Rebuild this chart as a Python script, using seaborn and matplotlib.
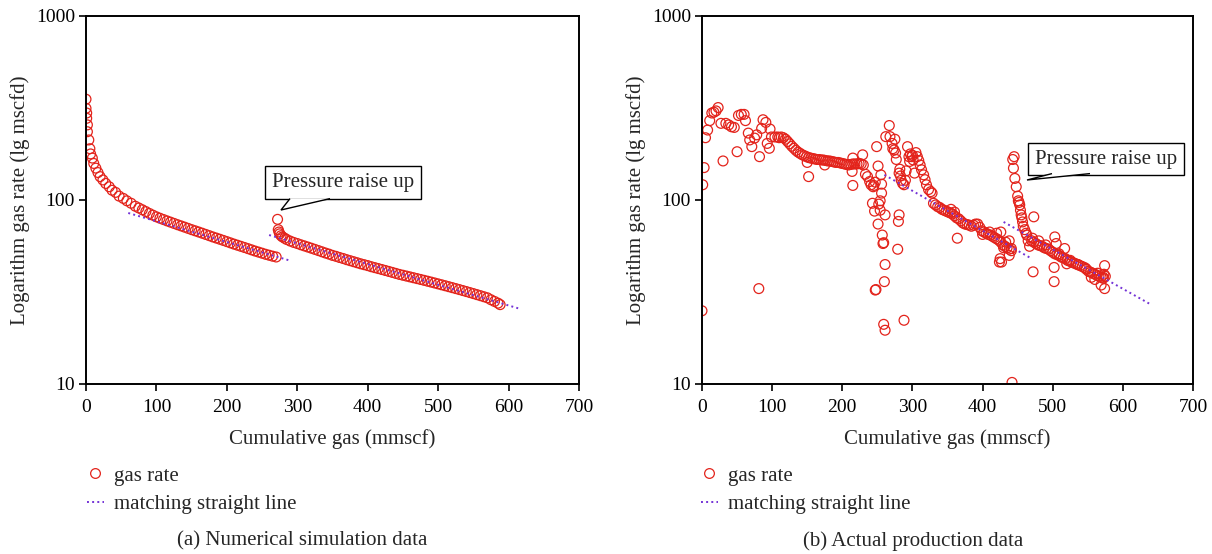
"""Decline-curve style plots: log gas rate vs cumulative gas, simulation vs field data."""
import matplotlib
matplotlib.use("Agg")
import matplotlib.pyplot as plt
from matplotlib.lines import Line2D
from matplotlib.patches import Polygon
from matplotlib.ticker import FixedLocator, FixedFormatter, NullLocator
import seaborn as sns

sns.set_theme(style="ticks")
plt.rcParams["font.family"] = ["Liberation Serif", "DejaVu Serif"]

RED = "#e3231b"
PURPLE = "#7433d6"
W, H = 1212, 554

# ---- (a) numerical simulation: two decline branches ----
sim1_x = [0, 0, 1, 1, 2, 2, 4, 5.5, 6.5, 9, 11, 14, 17, 20, 24, 28, 33, 37, 42, 47,
          53, 58, 64, 70, 75, 80, 85, 90, 95, 100, 105, 110, 115, 120, 125, 130, 135,
          140, 145, 150, 155, 160, 165, 170, 175, 180, 185, 190, 195, 200, 205, 210,
          215, 220, 225, 230, 235, 240, 245, 250, 255, 260, 265, 270]
sim1_q = [353, 315, 297, 278, 256, 235, 212, 190, 178, 169, 158, 149, 141, 134, 128.5,
          123, 118, 113, 110, 105, 102, 99, 96, 92.5, 90.5, 88.5, 86.5, 84.5, 82.7, 81,
          79.6, 78.3, 77, 75.8, 74.6, 73.4, 72.3, 71.2, 70.1, 69, 68, 67, 66, 65, 64,
          63, 62.1, 61.2, 60.3, 59.4, 58.5, 57.6, 56.8, 56, 55.2, 54.4, 53.6, 52.8, 52.1,
          51.4, 50.7, 50.1, 49.5, 49]
sim2_x = [272, 273, 274, 275, 277, 279, 282, 285, 290, 295, 300, 305, 310, 315, 320,
          325, 330, 335, 340, 345, 350, 355, 360, 365, 370, 375, 380, 385, 390, 395,
          400, 405, 410, 415, 420, 425, 430, 435, 440, 445, 450, 455, 460, 465, 470,
          475, 480, 485, 490, 495, 500, 505, 510, 515, 520, 525, 530, 535, 540, 545,
          550, 555, 560, 565, 570, 575, 580, 585, 588]
sim2_q = [78.5, 69, 67, 65.5, 64, 63, 62, 61, 59.8, 58.8, 58, 57.1, 56.3, 55.5, 54.7,
          53.9, 53.1, 52.3, 51.5, 50.8, 50, 49.4, 48.7, 48.1, 47.4, 46.8, 46.2, 45.6,
          45, 44.5, 44, 43.4, 42.9, 42.4, 41.9, 41.4, 40.9, 40.4, 39.9, 39.4, 39, 38.6,
          38.2, 37.8, 37.4, 37, 36.6, 36.2, 35.8, 35.4, 35, 34.6, 34.2, 33.8, 33.4, 33,
          32.6, 32.2, 31.8, 31.4, 31, 30.6, 30.2, 29.8, 29.4, 28.7, 28.1, 27.5, 27]
sim_fit1_x, sim_fit1_q = [60, 290], [85, 46.8]
sim_fit2_x, sim_fit2_q = [260, 615], [64.5, 25.7]

# ---- (b) actual production data ----
early_x = [0, 1, 3, 5, 8, 11, 14, 17, 20, 23, 27, 30, 34, 38, 42, 46, 50, 52, 56, 60,
           62, 66, 68, 71, 75, 78, 81, 82, 85, 87, 91, 93, 96, 97, 99, 104, 108]
early_q = [25, 121, 150, 218, 240, 270, 297, 300, 305, 318, 261, 163, 261, 256, 250,
           248, 183, 288, 292, 292, 270, 231, 212, 195, 217, 226, 33, 172, 245, 273,
           264, 203, 191, 243, 220, 220, 220]
band1_x = [110, 113, 116, 119, 122, 125, 128, 131, 134, 137, 140, 143, 146, 149, 152,
           155, 158, 161, 164, 167, 170, 173, 176, 179, 182, 185, 188, 191, 194, 197,
           200, 203, 206, 209, 212, 215, 218, 221, 224, 227, 230]
band1_q = [218, 220, 218, 214, 208, 202, 196, 191, 186, 182, 179, 176, 174, 172, 170,
           169, 168, 167, 166, 166, 165, 165, 164, 163, 163, 162, 161, 160, 160, 159,
           158, 157, 156, 155, 156, 157, 157, 157, 158, 157, 155]
mid_x = [150, 152, 175, 215, 214, 215, 229, 233, 236, 239, 241]
mid_q = [160, 134, 155, 169, 143, 120, 176, 138, 134, 126, 121]
drop1_x = [243, 246, 249, 251, 251, 252, 254, 254, 255, 256, 256, 257, 258, 259, 261,
           260, 259, 261, 261, 248, 247, 245, 244, 247]
drop1_q = [96, 87, 195, 153, 74, 95, 88, 99, 137, 109, 122, 64.5, 58, 58.6, 44.6, 36,
           21.1, 19.6, 83, 32.6, 32.4, 120, 118, 125]
rise1_x = [262, 267, 268, 271, 274, 275, 277, 279, 280, 281, 281, 282, 284, 286, 288,
           288, 291, 293, 295, 297, 299, 301, 303, 305, 307, 309, 311, 313, 316, 318,
           320, 323, 326, 328, 272, 276, 283, 290, 296, 300]
rise1_q = [221, 254, 221, 203, 187, 214, 166, 54, 76.5, 83, 140, 147, 128, 123, 121,
           22.2, 144, 195, 172, 178, 172, 165, 140, 181, 172, 164, 155, 146, 137, 129,
           121, 114, 111, 109, 190, 180, 135, 128, 162, 175]
band2_x = [330, 333, 336, 339, 342, 345, 348, 351, 354, 357, 360, 363, 366, 369, 372,
           375, 378, 381, 384, 387, 390, 393, 396, 399, 402, 405, 408, 411, 414, 417,
           420, 423, 426, 429, 432, 435, 438, 441]
band2_q = [96, 94, 92, 91, 89, 88, 87, 86, 85, 84, 82, 80, 79, 77, 75, 74, 73.5, 73,
           72, 73, 74, 74, 71, 68, 67, 66, 65, 64.5, 63.5, 62.5, 61.5, 60.5, 59, 57, 56,
           55, 54, 53]
scat2_x = [364, 424, 427, 426, 430, 433, 438, 438, 441, 442, 425, 420, 355, 360, 400, 410]
scat2_q = [62, 46, 46, 67, 55, 59, 60, 50, 54.5, 10.2, 48, 66, 89, 86, 65, 67]
rise2_x = [443, 445, 444, 446, 448, 450, 451, 453, 454, 455, 457, 460, 463, 465, 467,
           471, 473, 472, 452, 456, 458, 462]
rise2_q = [166, 172, 149, 131, 118, 105, 99, 94, 88, 83, 76, 69, 64.5, 60, 56, 62, 81,
           40.7, 97, 80, 72, 66]
tail_x = [470, 473, 476, 479, 482, 485, 488, 491, 494, 497, 500, 503, 506, 509, 512,
          515, 518, 521, 524, 527, 530, 533, 536, 539, 542, 545, 548, 551, 554, 557,
          560, 563, 566, 569, 572, 575]
tail_q = [60, 59, 58, 57, 56.5, 56, 55, 54.5, 54, 53, 52, 51, 50.5, 50, 49, 48.5, 48,
          47, 46.5, 46, 45.5, 45, 44.5, 44, 43.5, 43, 42, 41, 40.5, 40, 39.5, 39, 38.5,
          38, 38, 38.5]
scat3_x = [503, 502, 502, 509, 517, 520, 525, 536, 547, 555, 564, 572, 569, 574, 574,
           573, 505, 490, 480, 560]
scat3_q = [63, 43, 36, 51, 54.5, 45, 47, 44.6, 42.5, 38, 40, 37.5, 34.5, 33, 44, 39.5,
           58, 57, 60, 37]
act_fit1_x, act_fit1_q = [260, 470], [137, 48]
act_fit2_x, act_fit2_q = [430, 638], [76, 27.3]

X_TICKS = [0, 100, 200, 300, 400, 500, 600, 700]
Y_TICKS = [10, 100, 1000]


def style_axis(ax):
    ax.set_yscale("log")
    ax.set_xlim(0, 700)
    ax.set_ylim(10, 1000)
    ax.xaxis.set_major_locator(FixedLocator(X_TICKS))
    ax.yaxis.set_major_locator(FixedLocator(Y_TICKS))
    ax.yaxis.set_major_formatter(FixedFormatter([str(t) for t in Y_TICKS]))
    ax.yaxis.set_minor_locator(NullLocator())
    for s in ax.spines.values():
        s.set_visible(True)
        s.set_linewidth(1.4)
        s.set_color("black")
    ax.tick_params(axis="both", which="major", direction="out", length=5, width=1.2,
                   labelsize=14, colors="black", top=False, right=False)
    ax.tick_params(axis="x", pad=6)
    ax.tick_params(axis="y", pad=3)
    ax.set_xlabel("Cumulative gas (mmscf)", fontsize=15, labelpad=9)
    ax.set_ylabel("Logarithm gas rate (lg mscfd)", fontsize=15, labelpad=4)


def draw_points(ax, x, q):
    sns.scatterplot(x=x, y=q, ax=ax, s=50, marker="o", legend=False,
                    facecolor="none", edgecolor=RED, linewidth=0.9)
    pts = ax.collections[-1]
    pts.set_facecolor("none")
    pts.set_edgecolor(RED)


def draw_fit(ax, x, q):
    sns.lineplot(x=x, y=q, ax=ax, color=PURPLE, linestyle=":", linewidth=1.4,
                 sort=False, legend=False)


def callout(fig, ax, text, center, tip, base):
    # speech-bubble label: boxed text plus a wedge pointing at the data
    ax.text(center[0], center[1], text, fontsize=15, ha="center", va="center",
            zorder=6,
            bbox=dict(boxstyle="square,pad=0.33", fc="white", ec="black", lw=1))
    pts = [(base[0] / W, 1 - base[1] / H), (tip[0] / W, 1 - tip[1] / H),
           (base[2] / W, 1 - base[1] / H)]
    fig.patches.append(Polygon(pts, closed=False, fc="white", ec="black", lw=1,
                               transform=fig.transFigure, zorder=7))


def add_legend(ax, fig, x0):
    handles = [
        Line2D([], [], marker="o", ls="none", mfc="none", mec=RED, ms=7, mew=0.9,
               label="gas rate"),
        Line2D([], [], color=PURPLE, ls=":", lw=1.4, label="matching straight line"),
    ]
    ax.legend(handles=handles, loc="upper left", bbox_to_anchor=(x0, 1 - 466 / H),
              bbox_transform=fig.transFigure, frameon=False, fontsize=15,
              handlelength=0.8, handletextpad=0.5, labelspacing=0.42,
              borderpad=0, borderaxespad=0)


fig = plt.figure(figsize=(12.12, 5.54), dpi=100)
ax1 = fig.add_axes([86 / W, 1 - 384 / H, 493 / W, 368 / H])
ax2 = fig.add_axes([702 / W, 1 - 384 / H, 491 / W, 368 / H])

# (a)
draw_points(ax1, sim1_x, sim1_q)
draw_points(ax1, sim2_x, sim2_q)
draw_fit(ax1, sim_fit1_x, sim_fit1_q)
draw_fit(ax1, sim_fit2_x, sim_fit2_q)
style_axis(ax1)
callout(fig, ax1, "Pressure raise up", center=(365, 124), tip=(281, 210),
        base=(290, 198.6, 330))

# (b)
for px, pq in [(early_x, early_q), (band1_x, band1_q), (mid_x, mid_q),
               (drop1_x, drop1_q), (rise1_x, rise1_q), (band2_x, band2_q),
               (scat2_x, scat2_q), (rise2_x, rise2_q), (tail_x, tail_q),
               (scat3_x, scat3_q)]:
    draw_points(ax2, px, pq)
draw_fit(ax2, act_fit1_x, act_fit1_q)
draw_fit(ax2, act_fit2_x, act_fit2_q)
style_axis(ax2)
callout(fig, ax2, "Pressure raise up", center=(576, 167), tip=(1027, 180),
        base=(1052, 173.6, 1090))

add_legend(ax1, fig, 87 / W)
add_legend(ax2, fig, 701 / W)

fig.text(302 / W, 1 - 541 / H, "(a) Numerical simulation data", fontsize=15,
         ha="center", va="center")
fig.text(913 / W, 1 - 541 / H, "(b) Actual production data", fontsize=15,
         ha="center", va="center")

fig.savefig("out.png", dpi=100, facecolor="white")
plt.close(fig)
